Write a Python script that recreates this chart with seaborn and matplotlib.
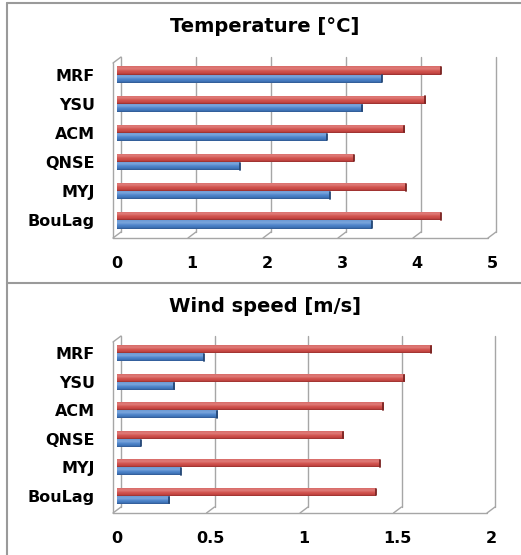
import numpy as np
import pandas as pd
import matplotlib
matplotlib.use("Agg")
import matplotlib.pyplot as plt
import seaborn as sns
from matplotlib.transforms import ScaledTranslation
from matplotlib.colors import LinearSegmentedColormap
from matplotlib.lines import Line2D

# ---------------- data ----------------
schemes = ["MRF", "YSU", "ACM", "QNSE", "MYJ", "BouLag"]
series = ["Series 1", "Series 2"]
temp_red = [4.32, 4.11, 3.83, 3.16, 3.85, 4.32]
temp_blue = [3.53, 3.27, 2.80, 1.64, 2.84, 3.40]
wind_red = [1.68, 1.535, 1.425, 1.21, 1.405, 1.385]
wind_blue = [0.465, 0.305, 0.535, 0.128, 0.342, 0.28]
temp_ticks = [0, 1, 2, 3, 4, 5]
temp_tick_labels = ["0", "1", "2", "3", "4", "5"]
wind_ticks = [0, 0.5, 1, 1.5, 2]
wind_tick_labels = ["0", "0.5", "1", "1.5", "2"]
titles = ["Temperature [°C]", "Wind speed [m/s]"]

RED = "#D0504D"
BLUE = "#4F86CC"
GRID = "#A6A6A6"

sns.set_style("white")
plt.rcParams["font.family"] = ["DejaVu Sans"]
plt.rcParams["text.color"] = "black"
plt.rcParams["xtick.color"] = "black"
plt.rcParams["ytick.color"] = "black"

W, H = 521, 555
fig = plt.figure(figsize=(W / 100, H / 100), dpi=100)

cmaps = {
    RED: LinearSegmentedColormap.from_list(
        "r", [(0, "#D86A67"), (0.3, "#E07D7A"), (0.55, "#D2544F"),
              (0.85, "#C44542"), (1, "#8A2A28")]),
    BLUE: LinearSegmentedColormap.from_list(
        "b", [(0, "#6A99D4"), (0.3, "#7CA6DC"), (0.55, "#4F86CC"),
              (0.85, "#3F73B7"), (1, "#2B5288")]),
}


def make_panel(rect, red, blue, ticks, ticklabels, title, title_y):
    ax = fig.add_axes(rect)
    df = pd.DataFrame({
        "scheme": schemes * 2,
        "value": list(red) + list(blue),
        "series": [series[0]] * len(schemes) + [series[1]] * len(schemes),
    })
    sns.barplot(data=df, y="scheme", x="value", hue="series",
                order=schemes, hue_order=series, palette=[RED, BLUE],
                width=0.56, saturation=1, legend=False, ax=ax,
                edgecolor="none", linewidth=0, errorbar=None)
    xmax = ticks[-1]

    grad = np.linspace(0, 1, 64).reshape(-1, 1)
    for p, col in zip(list(ax.patches), [RED] * len(schemes) + [BLUE] * len(schemes)):
        x0, y0 = p.get_x(), p.get_y()
        w, h = p.get_width(), p.get_height()
        im = ax.imshow(grad, extent=(x0, x0 + w, y0, y0 + h), origin="lower",
                       cmap=cmaps[col], aspect="auto", zorder=3,
                       interpolation="bicubic")
        im.set_clip_path(p)
        p.set_zorder(2)
        ax.plot([x0 + w, x0 + w], [y0 + h * 0.1, y0 + h * 0.92],
                color="#7A2422" if col == RED else "#244775", lw=1.3,
                solid_capstyle="round", zorder=4)
    ax.set_xlim(0, xmax)
    ax.set_ylim(len(schemes) - 0.5, -0.5)

    for s in ax.spines.values():
        s.set_visible(False)
    ax.set_xticks(ticks)
    ax.set_xticklabels(ticklabels, fontsize=11.5, fontweight="bold")
    ax.tick_params(axis="x", length=0, pad=15)
    ax.tick_params(axis="y", length=0, pad=16)
    for t in ax.get_yticklabels():
        t.set_fontweight("bold")
        t.set_fontsize(11.5)
    ax.set_xlabel("")
    ax.set_ylabel("")
    ax.grid(False)

    # pseudo-3D frame
    base = ax.get_xaxis_transform()
    front = base + ScaledTranslation(-0.04, -0.03, fig.dpi_scale_trans)
    back = base + ScaledTranslation(0.04, 0.03, fig.dpi_scale_trans)
    kw = dict(color=GRID, lw=1.0, clip_on=False, zorder=1)
    for v in ticks:
        ax.plot([v, v], [0, 1], transform=back, **kw)
    ax.plot([0, 0], [0, 1], transform=front, **kw)
    ax.plot([0, xmax], [0, 0], transform=front, **kw)
    inv = fig.dpi_scale_trans
    for v in ticks:
        xd, yd = base.transform((v, 0))
        xi, yi = inv.inverted().transform((xd, yd))
        fig.add_artist(Line2D([xi - 0.04, xi + 0.04], [yi - 0.03, yi + 0.03],
                              transform=inv, color=GRID, lw=1.0))
    xd, yd = base.transform((0, 1))
    xi, yi = inv.inverted().transform((xd, yd))
    fig.add_artist(Line2D([xi - 0.04, xi + 0.04], [yi - 0.03, yi + 0.03],
                          transform=inv, color=GRID, lw=1.0))

    fig.text(265 / W, 1 - title_y / H, title, ha="center", va="center",
             fontsize=14, fontweight="bold", color="black")
    return ax


make_panel([117 / W, (H - 235) / H, 375 / W, 175 / H],
           temp_red, temp_blue, temp_ticks, temp_tick_labels, titles[0], 26)
make_panel([117 / W, (H - 510) / H, 374 / W, 171 / H],
           wind_red, wind_blue, wind_ticks, wind_tick_labels, titles[1], 306)

bc = "#9A9A9A"
fig.add_artist(Line2D([7 / W, 7 / W], [0, 1 - 3 / H], transform=fig.transFigure,
                      color=bc, lw=1.5))
fig.add_artist(Line2D([7 / W, 1], [1 - 3 / H, 1 - 3 / H], transform=fig.transFigure,
                      color=bc, lw=1.5))
fig.add_artist(Line2D([7 / W, 1], [1 - 283 / H, 1 - 283 / H], transform=fig.transFigure,
                      color=bc, lw=1.5))

fig.savefig("out.png", dpi=100)
